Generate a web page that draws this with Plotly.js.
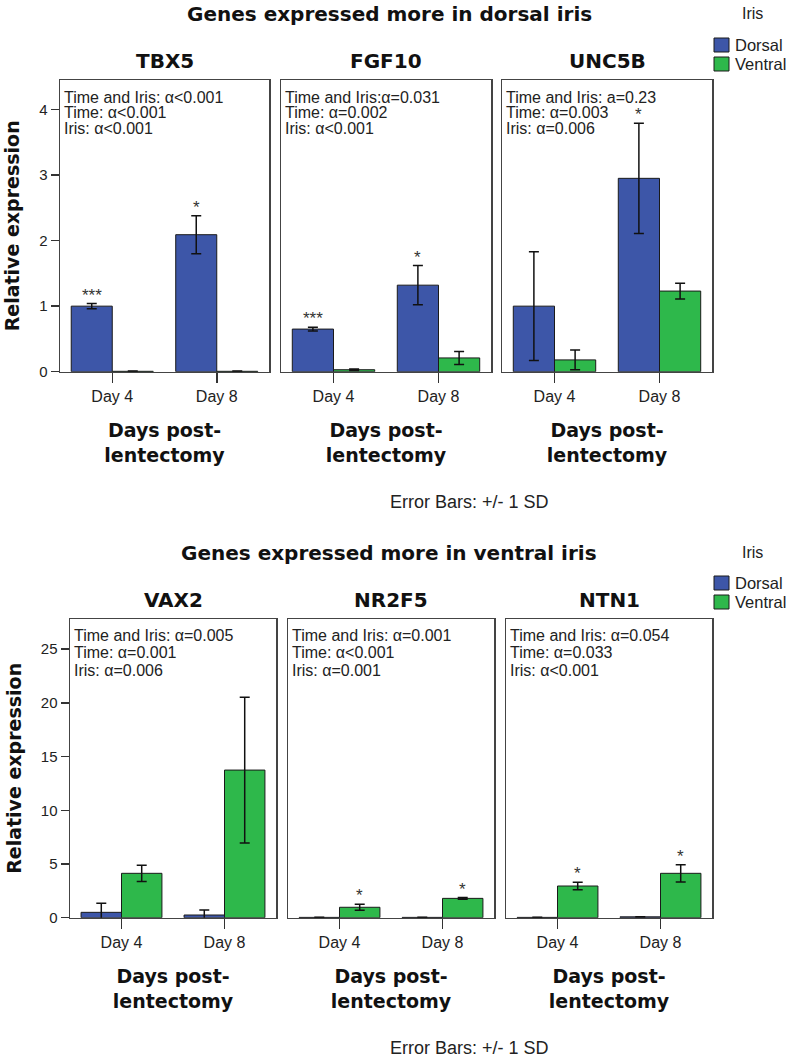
<!DOCTYPE html>
<html>
<head>
<meta charset="utf-8">
<script src="https://cdn.plot.ly/plotly-3.0.1.min.js"></script>
<style>html,body{margin:0;padding:0;background:#fff;}#chart{width:793px;height:1060px;}</style>
</head>
<body>
<div id="chart"></div>
<script>
// ---------- data ----------
const days = ["Day 4", "Day 8"];
const seriesNames = ["Dorsal", "Ventral"];
const geneNames = ["TBX5", "FGF10", "UNC5B", "VAX2", "NR2F5", "NTN1"];
const sectionTitles = ["Genes expressed more in dorsal iris", "Genes expressed more in ventral iris"];

const tbx5Dorsal = [1.00, 2.09];   const tbx5DorsalSD = [0.04, 0.29];
const tbx5Ventral = [0.006, 0.006]; const tbx5VentralSD = [0.003, 0.003];
const fgf10Dorsal = [0.65, 1.32];  const fgf10DorsalSD = [0.03, 0.30];
const fgf10Ventral = [0.03, 0.21]; const fgf10VentralSD = [0.01, 0.10];
const unc5bDorsal = [1.00, 2.95];  const unc5bDorsalSD = [0.83, 0.84];
const unc5bVentral = [0.18, 1.23]; const unc5bVentralSD = [0.15, 0.12];
const vax2Dorsal = [0.50, 0.25];   const vax2DorsalSD = [0.84, 0.47];
const vax2Ventral = [4.13, 13.74]; const vax2VentralSD = [0.75, 6.78];
const nr2f5Dorsal = [0.03, 0.03];  const nr2f5DorsalSD = [0.01, 0.01];
const nr2f5Ventral = [0.97, 1.80]; const nr2f5VentralSD = [0.28, 0.08];
const ntn1Dorsal = [0.03, 0.08];   const ntn1DorsalSD = [0.01, 0.02];
const ntn1Ventral = [2.95, 4.13];  const ntn1VentralSD = [0.35, 0.80];

const tbx5Stats = ["Time and Iris: α<0.001", "Time: α<0.001", "Iris: α<0.001"];
const fgf10Stats = ["Time and Iris:α=0.031", "Time: α=0.002", "Iris: α<0.001"];
const unc5bStats = ["Time and Iris: a=0.23", "Time: α=0.003", "Iris: α=0.006"];
const vax2Stats = ["Time and Iris: α=0.005", "Time: α=0.001", "Iris: α=0.006"];
const nr2f5Stats = ["Time and Iris: α=0.001", "Time: α<0.001", "Iris: α=0.001"];
const ntn1Stats = ["Time and Iris: α=0.054", "Time: α=0.033", "Iris: α<0.001"];

// significance marks: [dorsal marks per day, ventral marks per day]
const tbx5Stars = [["***", "*"], ["", ""]];
const fgf10Stars = [["***", "*"], ["", ""]];
const unc5bStars = [["", "*"], ["", ""]];
const vax2Stars = [["", ""], ["", ""]];
const nr2f5Stars = [["", ""], ["*", "*"]];
const ntn1Stars = [["", ""], ["*", "*"]];

const yTicksTop = [0, 1, 2, 3, 4];
const yTicksBottom = [0, 5, 10, 15, 20, 25];
const legendTitle = "Iris";
const errorNote = "Error Bars: +/- 1 SD";

// ---------- style / layout ----------
const W = 793, H = 1060;
const px = x => x / W;
const py = y => 1 - y / H;
const BLUE = "#3d56a8", GREEN = "#2eb84b";
const COLORS = [BLUE, GREEN];
const REG = "Liberation Sans, Arial, sans-serif";
const BOLD = "DejaVu Sans, Verdana, sans-serif";
const BAR_GAP = 0.215;

const panels = [
  {d: tbx5Dorsal, dsd: tbx5DorsalSD, v: tbx5Ventral, vsd: tbx5VentralSD, stats: tbx5Stats, stars: tbx5Stars},
  {d: fgf10Dorsal, dsd: fgf10DorsalSD, v: fgf10Ventral, vsd: fgf10VentralSD, stats: fgf10Stats, stars: fgf10Stars},
  {d: unc5bDorsal, dsd: unc5bDorsalSD, v: unc5bVentral, vsd: unc5bVentralSD, stats: unc5bStats, stars: unc5bStars},
  {d: vax2Dorsal, dsd: vax2DorsalSD, v: vax2Ventral, vsd: vax2VentralSD, stats: vax2Stats, stars: vax2Stars},
  {d: nr2f5Dorsal, dsd: nr2f5DorsalSD, v: nr2f5Ventral, vsd: nr2f5VentralSD, stats: nr2f5Stats, stars: nr2f5Stars},
  {d: ntn1Dorsal, dsd: ntn1DorsalSD, v: ntn1Ventral, vsd: ntn1VentralSD, stats: ntn1Stats, stars: ntn1Stars}
];

const xDomains = [[60, 269], [281, 491], [502, 712], [70, 276], [288, 494], [506, 712]];
const rowY = [[80, 371.7], [619, 917.7]];
const rowRange = [[0, 4.45], [0, 27.8]];
const rowTicks = [yTicksTop, yTicksBottom];
const rowSubTitleY = [61, 600];
const rowStatY = [[97, 112.5, 128.5], [635, 652.5, 670]];
const rowSectionY = [14, 553];
const rowNoteY = [502, 1048];
const rowLegendY = [[45, 64], [583, 602]];

const data = [];
const layout = {
  width: W, height: H,
  margin: {l: 0, r: 0, t: 0, b: 0},
  paper_bgcolor: "#fff", plot_bgcolor: "#fff",
  barmode: "group", bargap: BAR_GAP, bargroupgap: 0,
  showlegend: false,
  font: {family: REG, color: "#222"},
  annotations: [],
  shapes: []
};

panels.forEach((p, k) => {
  const row = k < 3 ? 0 : 1;
  const s = k === 0 ? "" : String(k + 1);
  const xa = "x" + s, ya = "y" + s;
  const first = (k % 3) === 0;
  const series = [[p.d, p.dsd], [p.v, p.vsd]];
  series.forEach((ser, j) => {
    data.push({
      type: "bar", x: days, y: ser[0], name: seriesNames[j],
      xaxis: xa, yaxis: ya, offsetgroup: String(j),
      marker: {color: COLORS[j], line: {color: "#1a1a1a", width: 1}},
      error_y: {type: "data", array: ser[1], visible: true, color: "#111", thickness: 1.5, width: 5},
      hoverinfo: "skip"
    });
  });

  layout["xaxis" + s] = {
    domain: [px(xDomains[k][0]), px(xDomains[k][1])], anchor: ya,
    type: "category", range: [-0.5, 1.5], fixedrange: true,
    showline: true, mirror: true, linecolor: "#444", linewidth: 1.5,
    ticks: "outside", ticklen: 10, tickwidth: 1.5, tickcolor: "#333",
    tickfont: {family: REG, size: 16, color: "#222"},
    showgrid: false, zeroline: false,
    title: {text: "Days post-<br>lentectomy", font: {family: BOLD, size: 19, color: "#111", weight: "bold"}, standoff: 19}
  };
  layout["yaxis" + s] = {
    domain: [py(rowY[row][1]), py(rowY[row][0])], anchor: xa,
    range: rowRange[row], fixedrange: true,
    showline: true, mirror: true, linecolor: "#444", linewidth: 1.5,
    showgrid: false, zeroline: false,
    tickmode: "array", tickvals: rowTicks[row],
    ticks: first ? "outside" : "", ticklen: 8, tickwidth: 1.5, tickcolor: "#333",
    showticklabels: first,
    tickfont: {family: REG, size: 15, color: "#222"},
    title: first ? {text: "Relative expression", font: {family: BOLD, size: 19, color: "#111", weight: "bold"}, standoff: 14} : {text: ""}
  };
  if (!first) layout["yaxis" + s].matches = row === 0 ? "y" : "y4";

  // gene title
  layout.annotations.push({
    xref: xa + " domain", x: 0.5, yref: "paper", y: py(rowSubTitleY[row]),
    xanchor: "center", yanchor: "middle", showarrow: false,
    text: geneNames[k], font: {family: BOLD, size: 20, color: "#111", weight: "bold"}
  });
  // stats text lines
  p.stats.forEach((t, i) => {
    layout.annotations.push({
      xref: xa + " domain", x: 0, xshift: 2, yref: "paper", y: py(rowStatY[row][i]),
      xanchor: "left", yanchor: "middle", showarrow: false,
      text: t, font: {family: REG, size: 16, color: "#222"}
    });
  });
  // significance stars
  const off = (1 - BAR_GAP) / 4;
  p.stars.forEach((arr, j) => {
    arr.forEach((st, i) => {
      if (!st) return;
      const val = j === 0 ? p.d[i] + p.dsd[i] : p.v[i] + p.vsd[i];
      layout.annotations.push({
        xref: xa, x: i + (j === 0 ? -off : off), yref: ya, y: val,
        xanchor: "center", yanchor: "bottom", yshift: -3, showarrow: false,
        text: st, font: {family: REG, size: 17, color: "#333"}
      });
    });
  });
});

[0, 1].forEach(row => {
  layout.annotations.push({
    xref: "paper", yref: "paper", x: px(389), y: py(rowSectionY[row]),
    xanchor: "center", yanchor: "middle", showarrow: false,
    text: sectionTitles[row], font: {family: BOLD, size: 20, color: "#111", weight: "bold"}
  });
  layout.annotations.push({
    xref: "paper", yref: "paper", x: px(752), y: py(rowSectionY[row] - 1),
    xanchor: "center", yanchor: "middle", showarrow: false,
    text: legendTitle, font: {family: REG, size: 16, color: "#222"}
  });
  // legend key
  seriesNames.forEach((nm, j) => {
    const yc = rowLegendY[row][j];
    layout.shapes.push({
      type: "rect", xref: "paper", yref: "paper",
      x0: px(714), x1: px(729), y0: py(yc + 7), y1: py(yc - 7),
      fillcolor: COLORS[j], line: {color: "#1a1a1a", width: 1}
    });
    layout.annotations.push({
      xref: "paper", yref: "paper", x: px(733), y: py(yc),
      xanchor: "left", yanchor: "middle", showarrow: false,
      text: nm, font: {family: REG, size: 16.5, color: "#222"}
    });
  });
  layout.annotations.push({
    xref: "paper", yref: "paper", x: px(469), y: py(rowNoteY[row]),
    xanchor: "center", yanchor: "middle", showarrow: false,
    text: errorNote, font: {family: REG, size: 18, color: "#222"}
  });
});

Plotly.newPlot("chart", data, layout, {staticPlot: true, displayModeBar: false});
</script>
</body>
</html>
